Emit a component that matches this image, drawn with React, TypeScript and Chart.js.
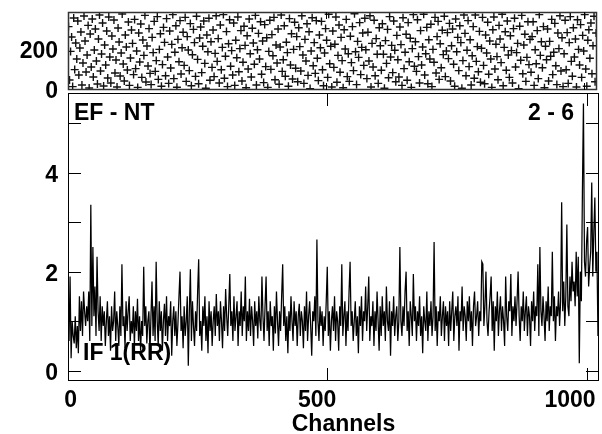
import React, { useEffect, useRef } from "react";
import { Chart, registerables } from "chart.js";

Chart.register(...registerables);

// ---- data ----
const channelMin = 0;
const channelMax = 1024;
const lineChannelStep = 2;
const scatterChannelStep = 2;
const scatterChannelOffset = 1;

// EF - NT ratio, one value every 2 channels
const ratioValues: number[] = [
  1.0, 0.6, 1.9, 0.25, 1.0, 0.7, 0.55, 1.1, 0.45, 0.9, 0.35, 1.5, 0.8, 1.4, 0.7, 1.6,
  1.2, 0.9, 1.3, 1.0, 1.6, 0.6, 3.35, 0.9, 2.5, 1.1, 1.7, 0.7, 2.3, 1.2, 0.8, 1.5,
  0.6, 1.3, 0.9, 1.2, 0.5, 1.0, 1.4, 0.7, 1.1, 0.4, 1.3, 0.8, 1.0, 1.6, 0.6, 1.2,
  0.9, 0.5, 1.3, 0.7, 2.15, 0.9, 1.1, 0.45, 1.4, 0.8, 1.2, 1.5, 0.6, 1.0, 0.75, 1.3,
  0.5, 1.2, 0.8, 1.45, 0.6, 1.1, 0.4, 1.0, 0.7, 2.1, 0.9, 1.3, 0.55, 1.0, 1.2, 0.35,
  1.1, 1.8, 0.7, 1.3, 0.6, 2.2, 1.0, 0.5, 1.4, 0.8, 1.2, 0.4, 1.0, 1.35, 0.7, 1.5,
  0.6, 1.1, 0.9, 1.4, 0.3, 1.0, 1.3, 0.7, 1.2, 0.5, 0.95, 1.5, 2.0, 0.8, 1.1, 0.45,
  1.3, 0.7, 1.0, 1.5, 0.1, 1.2, 2.05, 0.6, 1.4, 0.9, 0.5, 1.2, 0.8, 1.6, 2.25, 0.7,
  1.0, 0.4, 1.3, 0.9, 1.5, 0.6, 1.1, 0.35, 1.4, 0.8, 1.2, 0.5, 1.0, 1.3, 0.7, 1.55,
  0.9, 1.2, 0.6, 1.4, 1.0, 0.45, 1.3, 0.8, 1.65, 1.1, 0.7, 1.3, 1.95, 0.9, 1.2, 0.6,
  1.5, 0.8, 1.1, 1.4, 0.5, 1.2, 0.9, 1.6, 0.7, 1.3, 1.0, 1.9, 0.6, 1.2, 0.8, 1.45,
  0.7, 1.3, 1.0, 0.5, 1.4, 0.9, 1.2, 0.65, 1.5, 1.0, 0.8, 1.9, 1.1, 0.6, 1.3, 1.9,
  0.8, 1.2, 0.5, 1.4, 0.9, 1.1, 0.4, 1.3, 0.75, 1.6, 1.0, 0.5, 1.2, 0.8, 1.5, 2.15,
  0.9, 1.3, 0.6, 1.1, 0.35, 1.2, 0.8, 1.5, 1.0, 0.6, 1.4, 0.9, 1.2, 0.5, 1.1, 1.35,
  0.7, 1.2, 1.0, 0.45, 1.3, 0.8, 1.6, 0.6, 1.1, 1.4, 0.9, 0.3, 1.2, 1.0, 1.5, 0.7,
  2.65, 1.0, 0.6, 1.3, 0.9, 1.2, 0.5, 1.1, 0.8, 1.4, 2.1, 0.7, 1.2, 0.4, 1.0, 1.3,
  0.8, 1.5, 0.6, 1.2, 1.0, 0.4, 1.3, 0.9, 2.15, 0.7, 1.1, 1.4, 0.5, 1.2, 0.8, 1.6,
  2.2, 0.9, 1.2, 0.6, 1.0, 1.4, 0.7, 1.1, 0.35, 1.3, 0.9, 1.5, 0.6, 1.2, 1.0, 1.7,
  0.8, 1.3, 1.9, 0.6, 1.1, 0.9, 1.4, 0.5, 1.2, 0.8, 1.6, 1.0, 0.4, 1.3, 0.7, 1.5,
  0.9, 1.2, 0.6, 1.7, 1.0, 0.8, 1.4, 0.3, 1.2, 0.9, 1.5, 0.7, 1.1, 1.3, 0.6, 1.0,
  2.5, 1.0, 0.7, 1.3, 0.9, 1.6, 2.0, 0.8, 1.2, 0.5, 1.4, 1.1, 0.7, 1.95, 1.0, 1.3,
  0.6, 1.2, 0.9, 1.5, 0.7, 1.1, 0.35, 1.3, 1.0, 0.8, 1.6, 0.6, 1.2, 0.9, 1.4, 0.7,
  1.1, 2.6, 0.8, 1.3, 0.5, 1.2, 1.0, 1.5, 0.7, 1.1, 1.4, 0.6, 1.3, 0.9, 1.2, 0.5,
  1.4, 0.8, 1.2, 1.6, 0.6, 1.1, 1.3, 0.9, 1.5, 0.4, 1.2, 1.0, 1.7, 0.8, 1.3, 1.1,
  0.6, 1.4, 1.0, 1.5, 0.8, 1.2, 0.5, 1.3, 1.6, 0.9, 1.1, 1.4, 0.7, 1.2, 1.0, 2.2,
  2.15, 0.9, 1.3, 2.0, 1.0, 0.7, 1.2, 1.5, 1.9, 0.8, 1.4, 0.4, 1.3, 1.0, 1.6, 0.7,
  1.2, 1.5, 0.8, 1.3, 1.0, 0.5, 1.9, 1.1, 0.8, 1.4, 1.2, 1.95, 0.7, 1.3, 1.0, 1.5,
  0.9, 1.4, 2.0, 1.1, 0.6, 1.3, 1.0, 1.6, 0.8, 1.2, 1.5, 0.7, 1.3, 1.1, 0.5, 1.4,
  1.0, 1.6, 0.8, 1.3, 1.1, 2.15, 0.7, 2.5, 1.2, 0.9, 1.5, 1.1, 0.6, 1.4, 1.0, 1.7,
  0.8, 1.3, 1.1, 2.4, 1.0, 1.5, 0.6, 1.3, 1.1, 1.6, 0.9, 1.4, 3.4, 1.2, 1.8, 0.9,
  1.5, 2.95, 1.3, 1.1, 1.9, 1.4, 2.2, 1.6, 1.8, 1.3, 2.4, 1.5, 2.3, 0.15, 2.0, 1.4,
  3.6, 5.4, 2.2, 1.9, 2.6, 2.9, 1.7, 2.1, 2.4, 3.8, 1.9, 2.8, 3.5, 2.0, 2.4, 0.7,
];

// upper panel scatter, one value every 2 channels
const scatterValues: number[] = [
  312, 45, 188, 260, 12, 355, 97, 230, 150, 340, 70, 205, 285, 20, 130, 365,
  240, 85, 170, 318, 5, 275, 110, 350, 60, 195, 300, 140, 25, 250, 370, 90,
  175, 330, 15, 220, 120, 290, 55, 360, 160, 30, 265, 200, 345, 80, 145, 10,
  305, 235, 65, 180, 375, 125, 40, 270, 210, 95, 335, 18, 155, 295, 228, 72,
  348, 102, 190, 8, 280, 135, 325, 58, 245, 168, 368, 35, 215, 115, 302, 78,
  22, 258, 182, 338, 88, 142, 362, 48, 198, 276, 14, 122, 308, 233, 66, 352,
  160, 28, 290, 105, 223, 372, 52, 184, 316, 9, 248, 136, 342, 75, 206, 284,
  118, 358, 38, 262, 195, 92, 327, 16, 171, 298, 232, 63, 364, 148, 26, 255,
  310, 82, 214, 340, 128, 4, 270, 186, 354, 44, 236, 108, 295, 62, 178, 366,
  138, 252, 30, 320, 96, 208, 372, 54, 164, 287, 12, 226, 346, 114, 192, 70,
  330, 18, 244, 156, 360, 86, 202, 292, 40, 134, 314, 218, 6, 266, 100, 350,
  176, 60, 304, 230, 124, 368, 20, 196, 278, 150, 336, 74, 240, 32, 322, 112,
  256, 8, 188, 344, 98, 272, 166, 358, 46, 220, 130, 300, 24, 210, 370, 88,
  146, 316, 64, 234, 182, 14, 352, 120, 276, 50, 198, 334, 104, 262, 36, 306,
  212, 90, 366, 170, 28, 248, 140, 326, 68, 286, 2, 190, 356, 116, 232, 78,
  342, 154, 42, 270, 206, 338, 96, 16, 180, 302, 244, 58, 374, 126, 214, 10,
  290, 108, 224, 360, 34, 168, 320, 84, 258, 142, 6, 296, 200, 348, 62, 176,
  38, 264, 132, 312, 92, 376, 186, 22, 238, 158, 332, 72, 208, 280, 118, 354,
  196, 52, 284, 140, 366, 10, 228, 110, 344, 66, 252, 174, 28, 306, 216, 94,
  326, 174, 4, 242, 128, 298, 56, 362, 160, 218, 82, 340, 194, 36, 268, 146,
  60, 310, 222, 18, 356, 102, 184, 274, 44, 332, 136, 254, 8, 202, 372, 114,
  236, 88, 346, 162, 30, 292, 120, 210, 374, 70, 176, 308, 26, 246, 150, 324,
  12, 198, 134, 358, 80, 262, 338, 48, 226, 106, 294, 172, 364, 62, 190, 282,
  152, 328, 40, 216, 300, 124, 14, 350, 186, 258, 92, 316, 232, 4, 142, 370,
  278, 66, 194, 342, 112, 246, 20, 166, 312, 54, 370, 138, 212, 86, 288, 34,
  204, 358, 118, 26, 270, 180, 334, 74, 240, 150, 8, 296, 360, 100, 224, 162,
  46, 318, 250, 132, 374, 16, 208, 286, 94, 340, 170, 58, 266, 192, 30, 302,
  354, 110, 182, 228, 2, 314, 144, 368, 76, 220, 274, 38, 158, 336, 122, 248,
  84, 262, 336, 18, 196, 126, 292, 52, 372, 168, 236, 106, 312, 6, 214, 146,
  300, 40, 238, 164, 348, 72, 184, 328, 116, 22, 280, 202, 366, 90, 256, 12,
  176, 344, 96, 282, 28, 232, 362, 138, 64, 306, 160, 250, 10, 346, 198, 120,
  322, 58, 268, 190, 372, 100, 14, 244, 296, 154, 330, 76, 216, 364, 36, 280,
];

const xTickValues = [0, 500, 1000];
const xTickLabels = ["0", "500", "1000"];
const lowerYTickLabels = [0, 2, 4];
const lowerYMinorTicks = [0, 1, 2, 3, 4, 5];
const upperYTickLabels = [0, 200];
const xAxisTitle = "Channels";
const leftTitle = "EF - NT";
const rightTitle = "2 - 6";
const bottomNote = "IF 1(RR)";

const FONT = 'bold 23px "Liberation Sans", Arial, Helvetica, sans-serif';

function line(ctx: CanvasRenderingContext2D, x1: number, y1: number, x2: number, y2: number) {
  ctx.beginPath();
  ctx.moveTo(x1, y1);
  ctx.lineTo(x2, y2);
  ctx.stroke();
}

function text(ctx: CanvasRenderingContext2D, s: string, x: number, y: number, align: CanvasTextAlign) {
  ctx.font = FONT;
  ctx.fillStyle = "#000";
  ctx.textAlign = align;
  ctx.textBaseline = "alphabetic";
  ctx.fillText(s, x, y);
}

const upperDecor = {
  id: "upperDecor",
  afterDraw(chart: any) {
    const { ctx, chartArea: a, scales } = chart;
    const xs = scales.x;
    const ys = scales.y;
    ctx.save();
    ctx.strokeStyle = "#333";
    ctx.lineWidth = 1.5;
    ctx.strokeRect(Math.round(a.left) + 0.5, Math.round(a.top) + 0.5, Math.round(a.right - a.left) - 1, Math.round(a.bottom - a.top) - 1);
    ctx.strokeStyle = "#000";
    ctx.lineWidth = 1;
    for (const v of xTickValues) {
      if (v === 0) continue;
      const px = Math.round(xs.getPixelForValue(v)) + 0.5;
      line(ctx, px, a.bottom, px, a.bottom - 7);
      line(ctx, px, a.top, px, a.top + 7);
    }
    for (const v of upperYTickLabels) {
      const py = ys.getPixelForValue(v);
      text(ctx, String(v), a.left - 10, py + 8.5, "right");
    }
    ctx.restore();
  },
};

const lowerDecor = {
  id: "lowerDecor",
  beforeDatasetsDraw(chart: any) {
    const { ctx, chartArea: a } = chart;
    ctx.save();
    text(ctx, bottomNote, a.left + 15, 360, "left");
    ctx.restore();
  },
  afterDraw(chart: any) {
    const { ctx, chartArea: a, scales } = chart;
    const xs = scales.x;
    const ys = scales.y;
    ctx.save();
    ctx.strokeStyle = "#000";
    ctx.lineWidth = 1;
    ctx.strokeRect(Math.round(a.left) + 0.5, Math.round(a.top) + 0.5, Math.round(a.right - a.left) - 1, Math.round(a.bottom - a.top) - 1);
    for (const v of lowerYMinorTicks) {
      const py = Math.round(ys.getPixelForValue(v)) + 0.5;
      line(ctx, a.left, py, a.left + 13, py);
      line(ctx, a.right, py, a.right - 13, py);
    }
    for (const v of xTickValues) {
      if (v === 0) continue;
      const px = Math.round(xs.getPixelForValue(v)) + 0.5;
      line(ctx, px, a.bottom, px, a.bottom - 13);
      line(ctx, px, a.top, px, a.top + 13);
    }
    for (const v of lowerYTickLabels) {
      const py = ys.getPixelForValue(v);
      text(ctx, String(v), a.left - 10, py + 9.5, "right");
    }
    xTickValues.forEach((v, i) => {
      const px = xs.getPixelForValue(v);
      text(ctx, xTickLabels[i], px + 9, 407, "right");
    });
    text(ctx, xAxisTitle, (a.left + a.right) / 2 + 10, 431, "center");
    text(ctx, leftTitle, a.left + 6, 119.5, "left");
    text(ctx, rightTitle, a.right - 25, 120, "right");
    ctx.restore();
  },
};

export default function App() {
  const topRef = useRef<HTMLCanvasElement>(null);
  const botRef = useRef<HTMLCanvasElement>(null);

  useEffect(() => {
    if (!topRef.current || !botRef.current) return;
    const scatterData = scatterValues.map((v, i) => ({ x: i * scatterChannelStep + scatterChannelOffset, y: v }));
    const lineData = ratioValues.map((v, i) => ({ x: i * lineChannelStep, y: v }));

    const top = new Chart(topRef.current, {
      type: "scatter",
      data: {
        datasets: [
          {
            data: scatterData,
            pointStyle: "cross",
            pointRadius: 4,
            borderColor: "#111",
            backgroundColor: "#111",
            borderWidth: 1.4,
          },
        ],
      },
      options: {
        responsive: false,
        animation: false,
        devicePixelRatio: 1,
        layout: { padding: { left: 68, top: 12, right: 3, bottom: 344 } },
        plugins: { legend: { display: false }, tooltip: { enabled: false } },
        scales: {
          x: { type: "linear", display: false, min: channelMin, max: channelMax },
          y: { type: "linear", display: false, min: -5, max: 385 },
        },
      },
      plugins: [upperDecor],
    } as any);

    const bot = new Chart(botRef.current, {
      type: "line",
      data: {
        datasets: [
          {
            data: lineData,
            borderColor: "#000",
            borderWidth: 1.25,
            pointRadius: 0,
            tension: 0,
            fill: false,
          },
        ],
      },
      options: {
        responsive: false,
        animation: false,
        devicePixelRatio: 1,
        layout: { padding: { left: 68, top: 93, right: 3, bottom: 53 } },
        plugins: { legend: { display: false }, tooltip: { enabled: false } },
        scales: {
          x: { type: "linear", display: false, min: channelMin, max: channelMax },
          y: { type: "linear", display: false, min: -0.21, max: 5.61 },
        },
      },
      plugins: [lowerDecor],
    } as any);

    return () => {
      top.destroy();
      bot.destroy();
    };
  }, []);

  return (
    <div style={{ position: "fixed", left: 0, top: 0, width: 602, height: 434, background: "#fff" }}>
      <canvas ref={topRef} width={602} height={434} style={{ position: "absolute", left: 0, top: 0 }} />
      <canvas ref={botRef} width={602} height={434} style={{ position: "absolute", left: 0, top: 0 }} />
    </div>
  );
}
